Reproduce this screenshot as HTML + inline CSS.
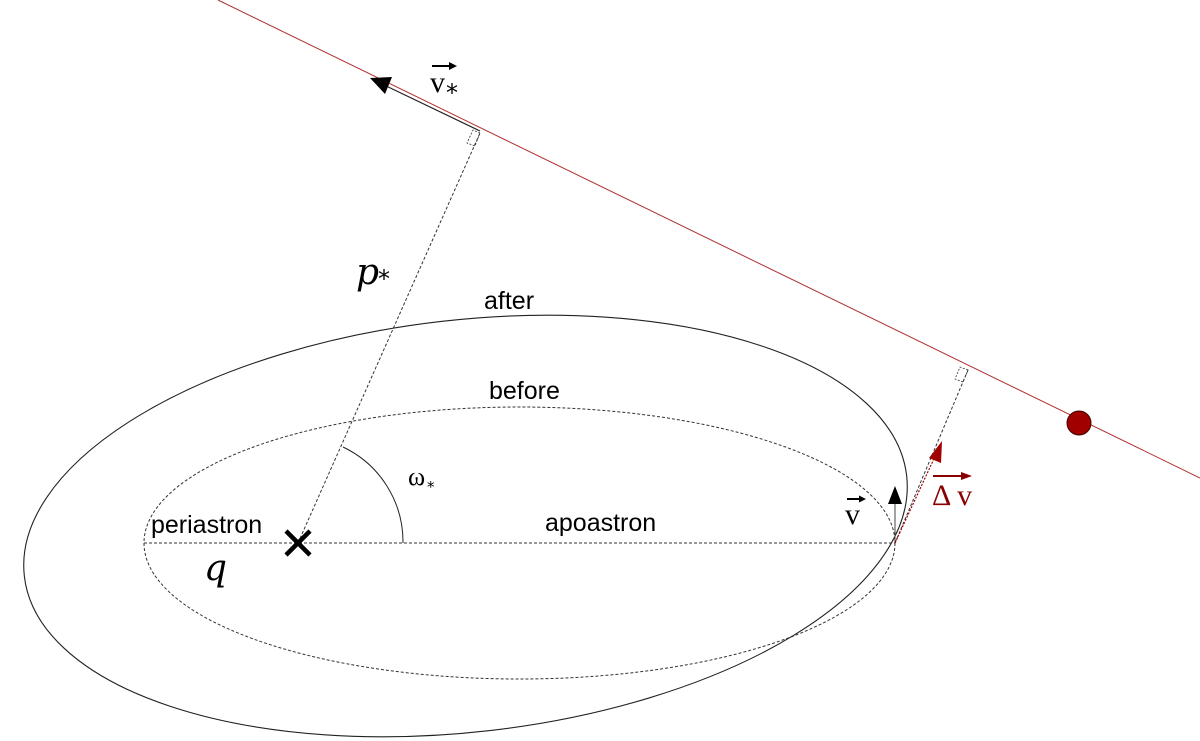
<!DOCTYPE html>
<html><head><meta charset="utf-8"><style>html,body{margin:0;padding:0;background:#fff;width:1200px;height:741px;overflow:hidden}svg{display:block}</style></head>
<body>
<svg width="1200" height="741" viewBox="0 0 1200 741" xmlns="http://www.w3.org/2000/svg">
<line x1="218" y1="0" x2="1200" y2="478" stroke="#b03030" stroke-width="1"/>
<line x1="380" y1="83" x2="480" y2="131" stroke="#222" stroke-width="1.2"/>
<polygon points="370,78 392,77 385,94" fill="#000"/>
<circle cx="1079" cy="423" r="12" fill="#a00000" stroke="#400" stroke-width="1"/>
<ellipse cx="519.5" cy="543" rx="375.5" ry="136" fill="none" stroke="#333" stroke-width="1" stroke-dasharray="3,2"/>
<ellipse cx="465.5" cy="526" rx="444" ry="206" transform="rotate(-6.5 465.5 526)" fill="none" stroke="#222" stroke-width="1.1"/>
<line x1="144" y1="543" x2="895" y2="543" stroke="#333" stroke-width="1" stroke-dasharray="3,2"/>
<line x1="298" y1="543" x2="480" y2="133" stroke="#333" stroke-width="1" stroke-dasharray="3,2"/>
<polygon points="480,133 473,130 467,143 475,146" fill="none" stroke="#333" stroke-width="0.8" stroke-dasharray="2,1.5"/>
<line x1="895" y1="543" x2="968" y2="370" stroke="#333" stroke-width="1" stroke-dasharray="3,2"/>
<polygon points="968,370 960,367 955,379 963,382" fill="none" stroke="#333" stroke-width="0.8" stroke-dasharray="2,1.5"/>
<path d="M403,543 A105,105 0 0 0 343,447" fill="none" stroke="#222" stroke-width="1"/>
<path d="M286,531 L310,555 M310,531 L286,555" stroke="#000" stroke-width="4.5"/>
<line x1="895" y1="543" x2="895" y2="500" stroke="#444" stroke-width="1"/>
<polygon points="895,486 888,504 902,504" fill="#000"/>
<line x1="895" y1="543" x2="938" y2="450" stroke="#a00000" stroke-width="1.2" stroke-dasharray="2,1.5"/>
<polygon points="942,441 929,458 941,463" fill="#a00000"/>
<g font-family="Liberation Sans, sans-serif" font-size="25" fill="#000">
<text x="484" y="309">after</text>
<text x="489" y="399">before</text>
<text x="545" y="531">apoastron</text>
<text x="151" y="533">periastron</text>
</g>
<text x="204" y="580" font-family="DejaVu Serif, serif" font-style="italic" font-size="36">q</text>
<text x="356" y="284" font-family="DejaVu Serif, serif" font-style="italic" font-size="36">p</text>
<text x="378" y="287" font-family="DejaVu Sans, sans-serif" font-size="24">*</text>
<text x="408" y="485" font-family="Liberation Serif, serif" font-size="26">ω</text>
<text x="427" y="492" font-family="DejaVu Sans, sans-serif" font-size="15">*</text>
<text x="430" y="92" font-family="Liberation Serif, serif" font-size="30">v</text>
<text x="446" y="101" font-family="DejaVu Sans, sans-serif" font-size="24">*</text>
<line x1="432" y1="66" x2="452" y2="66" stroke="#000" stroke-width="2"/>
<polygon points="457,66 449,62 449,70" fill="#000"/>
<text x="845" y="524" font-family="Liberation Serif, serif" font-size="30">v</text>
<line x1="847" y1="499" x2="861" y2="499" stroke="#000" stroke-width="2"/>
<polygon points="866,499 859,495.5 859,502.5" fill="#000"/>
<text x="932" y="505" font-family="Liberation Serif, serif" font-size="30" fill="#8b0000">Δ v</text>
<line x1="933" y1="476" x2="963" y2="476" stroke="#8b0000" stroke-width="2"/>
<polygon points="972,476 961,472 961,480" fill="#8b0000"/>
</svg>
</body></html>
